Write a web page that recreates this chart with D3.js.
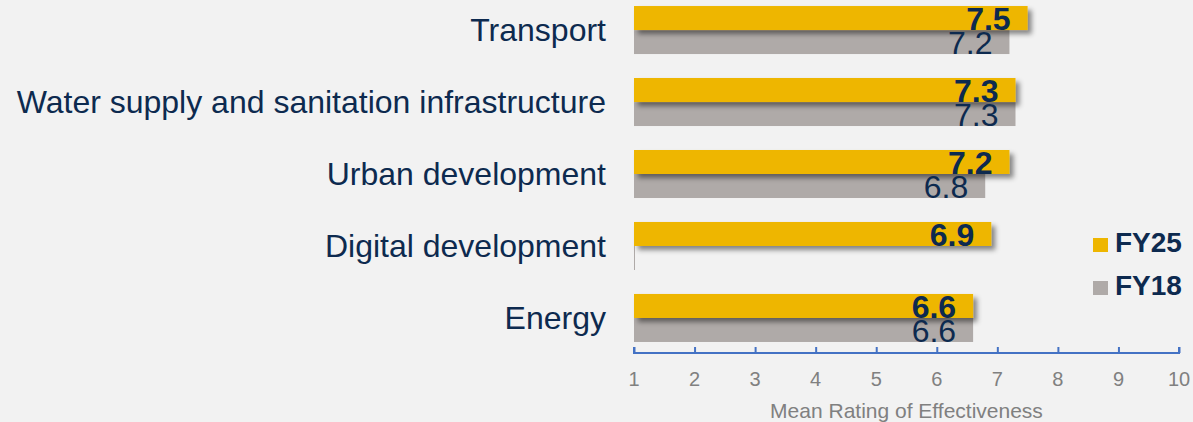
<!DOCTYPE html>
<html>
<head>
<meta charset="utf-8">
<script src="https://cdn.jsdelivr.net/npm/d3@7"></script>
<style>
  html, body { margin: 0; padding: 0; background: #f2f2f2; }
  svg { display: block; font-family: "Liberation Sans", Arial, sans-serif; }
</style>
</head>
<body>
<div id="chart"></div>
<script>
// data
var categories = ["Transport", "Water supply and sanitation infrastructure", "Urban development", "Digital development", "Energy"];
var fy25 = [7.5, 7.3, 7.2, 6.9, 6.6];
var fy18 = [7.2, 7.3, 6.8, null, 6.6];
var seriesNames = ["FY25", "FY18"];
var tickValues = [1, 2, 3, 4, 5, 6, 7, 8, 9, 10];
var axisTitle = "Mean Rating of Effectiveness";

var colors = { FY25: "#eeb600", FY18: "#afaaa8" };
var navy = "#0d2a4f";

var width = 1193, height = 422;
var svg = d3.select("#chart").append("svg")
  .attr("width", width)
  .attr("height", height);

var defs = svg.append("defs");
var f = defs.append("filter").attr("id", "shadow")
  .attr("x", "-5%").attr("y", "-30%").attr("width", "115%").attr("height", "190%");
f.append("feDropShadow")
  .attr("dx", 4).attr("dy", 4).attr("stdDeviation", 2.5)
  .attr("flood-color", "#000").attr("flood-opacity", 0.45);

//Scales
var x = d3.scaleLinear().domain([1, 10]).range([634, 1179]);
var y = d3.scaleBand().domain(categories).range([-6, 354]).paddingInner(0.333).paddingOuter(0.167);
var sub = d3.scaleBand().domain(seriesNames).range([0, y.bandwidth()]);

var rows = categories.map(function(c, i){
  return { cat: c, vals: [ {s: "FY25", v: fy25[i]}, {s: "FY18", v: fy18[i]} ] };
});

//Category labels
svg.append("g").selectAll("text")
  .data(categories).enter().append("text")
  .attr("x", 606)
  .attr("y", function(d){ return y(d) + y.bandwidth() / 2; })
  .attr("dy", "0.35em")
  .attr("text-anchor", "end")
  .attr("font-size", 32)
  .attr("fill", navy)
  .text(function(d){ return d; });

//Bars: draw FY18 first so the FY25 shadow falls over it
var g = svg.append("g");
["FY18", "FY25"].forEach(function(s){
  g.selectAll(".bar-" + s)
    .data(rows).enter().append("rect")
    .attr("class", "bar-" + s)
    .attr("x", x(1))
    .attr("y", function(d){ return y(d.cat) + sub(s); })
    .attr("height", sub.bandwidth())
    .attr("width", function(d){
      var v = d.vals.find(function(e){ return e.s === s; }).v;
      return Math.max(1, x(v == null ? 1 : v) - x(1));
    })
    .attr("fill", colors[s])
    .attr("filter", s === "FY25" ? "url(#shadow)" : null);
});

//Value labels
rows.forEach(function(d){
  d.vals.forEach(function(e){
    if (e.v == null) return;
    svg.append("text")
      .attr("x", x(e.v) - 17)
      .attr("y", y(d.cat) + sub(e.s) + sub.bandwidth() / 2 + 1)
      .attr("dy", "0.35em")
      .attr("text-anchor", "end")
      .attr("font-size", 32)
      .attr("font-weight", e.s === "FY25" ? "bold" : "normal")
      .attr("fill", navy)
      .text(e.v.toFixed(1));
  });
});

//Axis
var xAxis = d3.axisTop(x).tickValues(tickValues).tickSize(6).tickFormat("");
var ax = svg.append("g").attr("transform", "translate(0,353)").call(xAxis);
ax.select(".domain").attr("stroke", "#4472c4").attr("stroke-width", 2)
  .attr("d", "M" + x(1) + ",-6V0H" + x(10) + "V-6");
ax.selectAll(".tick line").attr("stroke", "#4472c4").attr("stroke-width", 2);

svg.append("g").selectAll("text")
  .data(tickValues).enter().append("text")
  .attr("x", function(d){ return x(d); })
  .attr("y", 386)
  .attr("text-anchor", "middle")
  .attr("font-size", 20)
  .attr("fill", "#808080")
  .text(function(d){ return d; });

svg.append("text")
  .attr("x", (x(1) + x(10)) / 2)
  .attr("y", 418)
  .attr("text-anchor", "middle")
  .attr("font-size", 21)
  .attr("fill", "#808080")
  .text(axisTitle);

//Legend
var leg = svg.append("g").selectAll("g")
  .data(seriesNames).enter().append("g")
  .attr("transform", function(d, i){ return "translate(1093," + (238 + i * 43) + ")"; });
leg.append("rect").attr("width", 15).attr("height", 14)
  .attr("fill", function(d){ return colors[d]; });
leg.append("text")
  .attr("x", 22).attr("y", 14)
  .attr("font-size", 28).attr("font-weight", "bold")
  .attr("fill", navy)
  .text(function(d){ return d; });
</script>
</body>
</html>
